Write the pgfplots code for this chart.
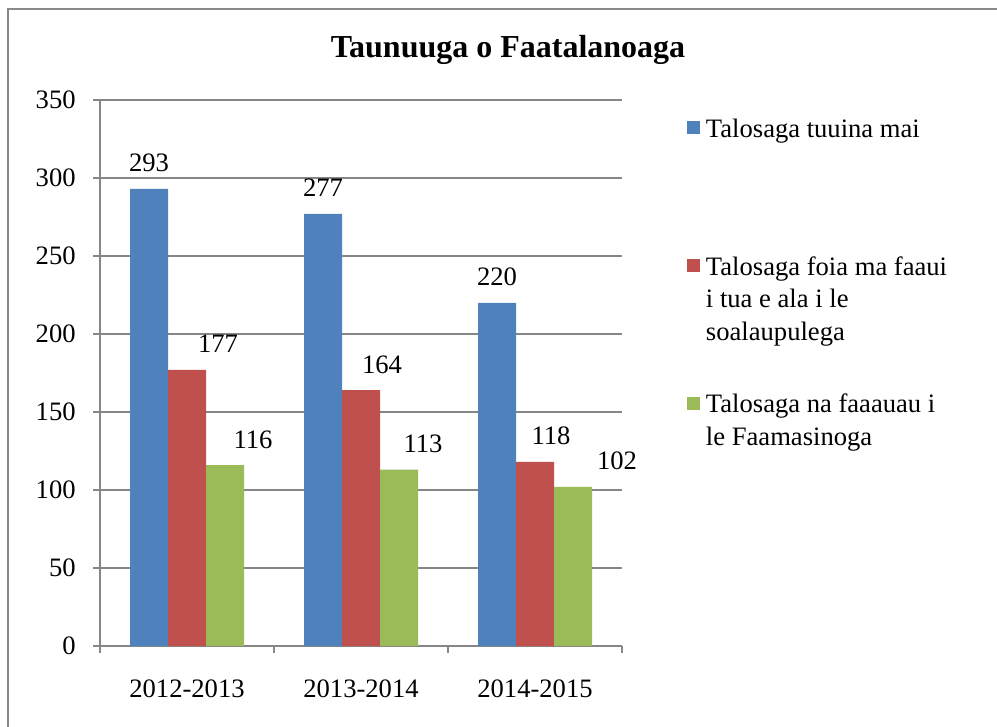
\documentclass[border=0pt]{standalone}
\usepackage{fontspec}
\setmainfont{Liberation Serif}
\usepackage{pgfplots}
\usepackage{pgfplotstable}
\pgfplotsset{compat=1.18}
\definecolor{sblue}{RGB}{79,129,189}
\definecolor{sred}{RGB}{192,80,77}
\definecolor{sgreen}{RGB}{155,187,89}
\definecolor{axgray}{RGB}{134,134,134}
\definecolor{framegray}{RGB}{136,136,136}

\pgfplotstableread{
x y dx
0 293 0
1 277 0
2 220 0
}\tblA
\pgfplotstableread{
x y dx
0 177 15.5
1 164 10.5
2 118 8
}\tblB
\pgfplotstableread{
x y dx
0 116 14
1 113 12
2 102 22
}\tblC

\newcommand{\lgd}[1]{\parbox[t]{140pt}{\raggedright\baselineskip=15.25pt #1}\rule[-40pt]{0pt}{52pt}}

\begin{document}
\begin{tikzpicture}
\useasboundingbox (0,0) rectangle (498.5pt,-363.5pt);
\draw[framegray, line width=1.25pt] (4pt,-420pt) -- (4pt,-4.5pt) -- (560pt,-4.5pt);
\node[font=\bfseries\fontsize{16}{19}\selectfont, anchor=base] at (254pt,-29pt) {Taunuuga o Faatalanoaga};
\begin{axis}[
  at={(50pt,-323pt)}, anchor=south west,
  scale only axis, width=261pt, height=273pt,
  ybar=0pt, bar width=19pt,
  xmin=-0.5, xmax=2.5, ymin=0, ymax=350,
  ytick={0,50,...,350},
  xtick={-0.5,0.5,1.5,2.5}, xticklabels={},
  extra x ticks={0,1,2},
  extra x tick labels={2012-2013,2013-2014,2014-2015},
  extra x tick style={major tick length=0pt, grid=none},
  axis lines*=left,
  axis line style={axgray, line width=0.75pt},
  tick align=outside,
  major tick length=3.5pt,
  tick style={axgray, line width=0.75pt},
  ymajorgrids, grid style={axgray, line width=0.75pt},
  tick label style={font=\fontsize{13.3}{15}\selectfont},
  /pgf/number format/assume math mode=true,
  yticklabel style={anchor=east, inner sep=0pt, xshift=-8.5pt},
  xticklabel style={anchor=base, inner sep=0pt, yshift=-25.5pt},
  nodes near coords,
  visualization depends on={\thisrow{dx} \as \dx},
  every node near coord/.append style={font=\fontsize{13.3}{15}\selectfont, text=black, anchor=base, inner sep=0pt, yshift=8.5pt, xshift=\dx pt},
  legend cell align=left,
  legend style={draw=none, fill=none, at={(axis description cs:1.1245,0.9762)}, anchor=north west,
    inner sep=0pt, outer sep=0pt, row sep=17pt, font=\fontsize{13.3}{15}\selectfont,
    cells={anchor=base west},
    nodes={inner sep=0pt, text depth=, text height=},
    /tikz/every odd column/.append style={column sep=3pt}},
  legend image code/.code={\fill[#1] (0pt,1.5pt) rectangle (6.5pt,8pt);},
]
\addplot[fill=sblue, draw=none] table[x=x, y=y] {\tblA};
\addlegendentry{\lgd{Talosaga tuuina mai}}
\addplot[fill=sred, draw=none] table[x=x, y=y] {\tblB};
\addlegendentry{\lgd{Talosaga foia ma faaui\\[1pt]i tua e ala i le\\[1pt]soalaupulega}}
\addplot[fill=sgreen, draw=none] table[x=x, y=y] {\tblC};
\addlegendentry{\lgd{Talosaga na faaauau i\\[1pt]le Faamasinoga}}
\end{axis}
\end{tikzpicture}
\end{document}
